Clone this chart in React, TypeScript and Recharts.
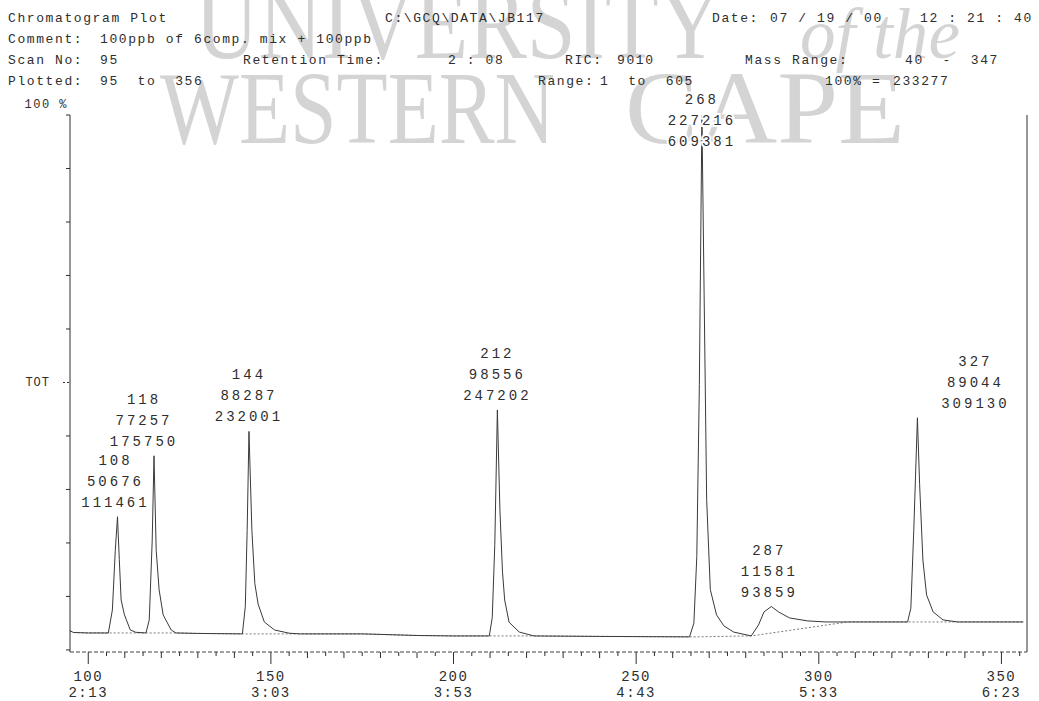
import React from "react";
import { ComposedChart, Line, Scatter, XAxis, YAxis } from "recharts";

// Full-scale intensity (100% = 233277 counts)
const FULL_SCALE = 233277;

// Trace points: scan number, fitted baseline, signal above baseline
const SCANS = [
  95, 96, 100, 105.5, 106.6, 107.4, 108, 108.5, 109, 109.9, 111.5, 113, 115.8,
  116.7, 117.5, 118, 118.6, 119.4, 120.5, 122.7, 124, 130, 142.2, 143, 143.5,
  144, 144.8, 145.6, 146.5, 148.2, 151, 155, 158, 175, 190, 200, 209.8, 210.6,
  211.3, 212, 212.7, 213.4, 214, 215.2, 218, 222, 240, 264.6, 265.8, 266.6,
  267.3, 268, 268.6, 269.3, 270.3, 272, 274, 276.7, 281.5, 283.5, 285, 287,
  289, 292, 297, 302, 308, 324.3, 325.2, 326, 327, 327.6, 328.5, 329.5, 331.3,
  334, 338, 356,
];
const BASELINE = [
  8300, 7600, 7400, 7400, 7400, 7400, 7400, 7400, 7400, 7400, 7400, 7400, 7400,
  7400, 7400, 7400, 7400, 7400, 7400, 7400, 7400, 7200, 7000, 7000, 7000,
  7000, 7000, 7000, 7000, 7000, 7000, 7000, 7000, 7000, 6300, 6100, 6100, 6100,
  6100, 6100, 6100, 6100, 6100, 6100, 6100, 6100, 5900, 5700, 5700, 5700,
  5700, 5700, 5800, 5800, 5800, 5900, 5900, 6000, 6100, 6560, 6900, 7360,
  7840, 8530, 9680, 10850, 12200, 12200, 12200, 12200, 12200, 12200, 12200, 12200, 12200,
  12200, 12200, 12200,
];
const SIGNAL = [
  0, 0, 0, 0, 10000, 36000, 50676, 32000, 14400, 7900, 1300, 300, 0,
  5700, 40000, 77257, 36000, 18800, 7900, 1300, 0, 0, 0, 12000, 45000,
  88287, 45000, 22000, 13000, 5200, 1700, 300, 0, 0, 0, 0, 0, 8000,
  40000, 98556, 55000, 28000, 15700, 6000, 1700, 0, 0, 0, 6000, 35000,
  110000, 227216, 150000, 59700, 20500, 9400, 4600, 1800, 0, 4340, 9670, 11581,
  8730, 5420, 2970, 1350, 0, 0, 6000, 40000, 89044, 60000, 27000, 11800, 4400,
  900, 0, 0,
];

// Integrated peaks: scan, height, area
const PEAK_SCANS = [108, 118, 144, 212, 268, 287, 327];
const PEAK_HEIGHTS = [50676, 77257, 88287, 98556, 227216, 11581, 89044];
const PEAK_AREAS = [111461, 175750, 232001, 247202, 609381, 93859, 309130];

// Axis ticks
const SCAN_TICKS = [
  100, 105, 110, 115, 120, 125, 130, 135, 140, 145, 150, 155, 160, 165, 170,
  175, 180, 185, 190, 195, 200, 205, 210, 215, 220, 225, 230, 235, 240, 245,
  250, 255, 260, 265, 270, 275, 280, 285, 290, 295, 300, 305, 310, 315, 320,
  325, 330, 335, 340, 345, 350, 355,
];
const SCAN_LABELS = [100, 150, 200, 250, 300, 350];
const TIME_LABELS = ["2:13", "3:03", "3:53", "4:43", "5:33", "6:23"];
const PCT_TICKS = [0, 10, 20, 30, 40, 50, 60, 70, 80, 90, 100];

const MONO = "'Liberation Mono', 'DejaVu Sans Mono', monospace";
const SERIF = "'Liberation Serif', 'DejaVu Serif', serif";
const INK = "#2e2e2e";

const trace = SCANS.map((scan, i) => ({
  scan,
  base: BASELINE[i],
  tic: BASELINE[i] + SIGNAL[i],
}));

const peaks = PEAK_SCANS.map((scan, i) => {
  const j = SCANS.indexOf(scan);
  return {
    scan,
    tic: BASELINE[j] + PEAK_HEIGHTS[i],
    height: PEAK_HEIGHTS[i],
    area: PEAK_AREAS[i],
  };
});

// horizontal nudges for the peak annotations
const LABEL_DX: Record<number, number> = { 108: -2, 118: -10, 287: -2, 327: 58 };

// header lines: [text, x, baseline y]
const HEADER: Array<[string, number, number]> = [
  ["Chromatogram Plot", 8, 22],
  ["C:\\GCQ\\DATA\\JB117", 385, 22],
  ["Date:", 712, 22],
  ["07 / 19 / 00", 770, 22],
  ["12 : 21 : 40", 920, 22],
  ["Comment:", 8, 43],
  ["100ppb of 6comp. mix + 100ppb", 100, 43],
  ["Scan No:", 8, 64],
  ["95", 100, 64],
  ["Retention Time:", 243, 64],
  ["2 : 08", 448, 64],
  ["RIC:", 565, 64],
  ["9010", 617, 64],
  ["Mass Range:", 745, 64],
  ["40  -  347", 905, 64],
  ["Plotted:", 8, 85],
  ["95  to  356", 100, 85],
  ["Range:", 538, 85],
  ["1  to  605", 600, 85],
  ["100% =", 825, 85],
  ["233277", 893, 85],
];

// keep runs of spaces in svg text
const pre = (s: string) => s.replace(/ /g, "\u00a0");

function ScanTick(props: any) {
  const { x, y, payload } = props;
  const v = payload.value as number;
  const idx = SCAN_LABELS.indexOf(v);
  const len = idx >= 0 ? 12 : v % 10 === 0 ? 6 : 4;
  return (
    <g>
      <line x1={x} x2={x} y1={y} y2={y + len} stroke={INK} strokeWidth={1} />
      {idx >= 0 && (
        <>
          <text x={x} y={y + 29} textAnchor="middle" fontFamily={MONO} fontSize={14} letterSpacing={1.5} fill={INK}>
            {v}
          </text>
          <text x={x} y={y + 45} textAnchor="middle" fontFamily={MONO} fontSize={14} letterSpacing={1.5} fill={INK}>
            {TIME_LABELS[idx]}
          </text>
        </>
      )}
    </g>
  );
}

function LeftTick(props: any) {
  const { x, y, payload } = props;
  const pct = Math.round((payload.value / FULL_SCALE) * 100);
  return (
    <g>
      <line x1={x - (pct === 50 ? 7 : 4)} x2={x} y1={y} y2={y} stroke={INK} strokeWidth={1} strokeDasharray={pct === 50 ? "2 2" : undefined} />
      {pct === 100 && (
        <text x={x - 2} y={y - 7} textAnchor="end" fontFamily={MONO} fontSize={12} letterSpacing={1.5} fill={INK}>
          {pre("100 %")}
        </text>
      )}
      {pct === 50 && (
        <text x={x - 20} y={y + 4} textAnchor="end" fontFamily={MONO} fontSize={12} letterSpacing={1} fill={INK}>
          TOT
        </text>
      )}
    </g>
  );
}

function RightTick(props: any) {
  const { x, y, payload } = props;
  const pct = Math.round((payload.value / FULL_SCALE) * 100);
  if (pct === 0 || pct === 100) return <g />;
  return pct === 50 ? (
    <line x1={x} x2={x + 12} y1={y} y2={y} stroke={INK} strokeWidth={1} />
  ) : (
    <line x1={x - 2} x2={x} y1={y} y2={y} stroke={INK} strokeWidth={1} />
  );
}

function PeakLabel(props: any) {
  const { cx, cy, payload } = props;
  const x = cx + (LABEL_DX[payload.scan] ?? 0);
  const bottom = Math.max(cy - 15, 141);
  const lines = [String(payload.scan), String(payload.height), String(payload.area)];
  return (
    <g>
      {lines.map((t, k) => (
        <text
          key={k}
          x={x}
          y={bottom - (2 - k) * 21 + 5}
          textAnchor="middle"
          fontFamily={MONO}
          fontSize={14}
          letterSpacing={3}
          fill={INK}
          stroke="#fff"
          strokeWidth={4}
          paintOrder="stroke"
        >
          {t}
        </text>
      ))}
    </g>
  );
}

export default function App() {
  const yTicks = PCT_TICKS.map((p) => (p * FULL_SCALE) / 100);
  return (
    <div style={{ position: "relative", width: 1039, height: 701, background: "#fff" }}>
      <style>{`body{margin:0;background:#fff}`}</style>
      <svg width={1039} height={701} style={{ position: "absolute", left: 0, top: 0 }}>
        {/* watermark */}
        <g fill="#d4d4d4" fontFamily={SERIF}>
          <text x={195} y={58} fontSize={104} textLength={527} lengthAdjust="spacingAndGlyphs">
            UNIVERSITY
          </text>
          <text x={800} y={58} fontSize={72} fontStyle="italic" textLength={160} lengthAdjust="spacingAndGlyphs">
            {pre("of the")}
          </text>
          <text x={160} y={143} fontSize={104} textLength={395} lengthAdjust="spacingAndGlyphs">
            WESTERN
          </text>
          <text x={625} y={143} fontSize={104} textLength={280} lengthAdjust="spacingAndGlyphs">
            CAPE
          </text>
        </g>
        <g fontFamily={MONO} fontSize={13} letterSpacing={1.6} fill={INK}>
          {HEADER.map(([t, x, y], i) => (
            <text key={i} x={x} y={y}>
              {pre(t)}
            </text>
          ))}
        </g>
      </svg>
      <div style={{ position: "absolute", left: 0, top: 0 }}>
        <ComposedChart width={1039} height={701} data={trace} margin={{ top: 115, right: 0, bottom: 0, left: 0 }}>
          <XAxis
            dataKey="scan"
            type="number"
            domain={[95, 357]}
            ticks={SCAN_TICKS}
            interval={0}
            height={49}
            tickSize={0}
            tickMargin={0}
            tick={<ScanTick />}
            axisLine={{ stroke: "#444", strokeDasharray: "4 2" }}
          />
          <YAxis
            yAxisId="l"
            orientation="left"
            width={70}
            domain={[-900, FULL_SCALE]}
            ticks={yTicks}
            interval={0}
            tickSize={0}
            tickMargin={0}
            tick={<LeftTick />}
            axisLine={{ stroke: INK }}
          />
          <YAxis
            yAxisId="r"
            orientation="right"
            width={12}
            domain={[-900, FULL_SCALE]}
            ticks={yTicks}
            interval={0}
            tickSize={0}
            tickMargin={0}
            tick={<RightTick />}
            axisLine={{ stroke: INK }}
          />
          <Line
            yAxisId="l"
            dataKey="base"
            type="linear"
            stroke="#555"
            strokeWidth={0.8}
            strokeDasharray="2 2"
            dot={false}
            isAnimationActive={false}
          />
          <Line
            yAxisId="l"
            dataKey="tic"
            type="linear"
            stroke="#3a3a3a"
            strokeWidth={1}
            dot={false}
            isAnimationActive={false}
          />
          <Scatter yAxisId="l" data={peaks} dataKey="tic" shape={<PeakLabel />} isAnimationActive={false} />
        </ComposedChart>
      </div>
    </div>
  );
}
